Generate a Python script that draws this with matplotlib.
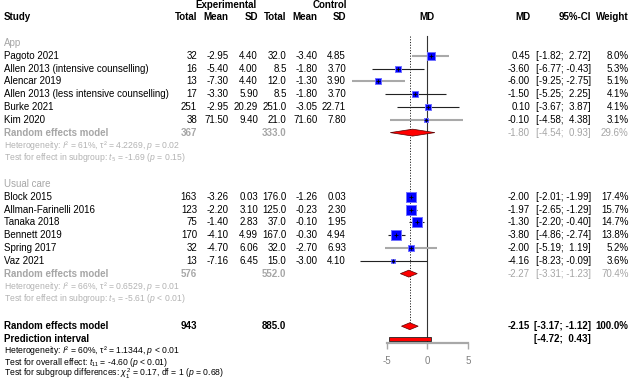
import matplotlib
matplotlib.use('Agg')
import matplotlib.pyplot as plt
from matplotlib.transforms import blended_transform_factory
from matplotlib.patches import Polygon, Rectangle

plt.rcParams['font.family'] = ['Liberation Sans', 'DejaVu Sans']
plt.rcParams['mathtext.fontset'] = 'custom'
plt.rcParams['mathtext.rm'] = 'Liberation Sans'
plt.rcParams['mathtext.it'] = 'Liberation Sans:italic'
plt.rcParams['mathtext.bf'] = 'Liberation Sans:bold'

# App subgroup
app_study = ['Pagoto 2021', 'Allen 2013 (intensive counselling)', 'Alencar 2019',
             'Allen 2013 (less intensive counselling)', 'Burke 2021', 'Kim 2020']
app_ne = [32, 16, 13, 17, 251, 38]
app_me = [-2.95, -5.40, -7.30, -3.30, -2.95, 71.50]
app_se = [4.40, 4.00, 4.40, 5.90, 20.29, 9.40]
app_nc = [32.0, 8.5, 12.0, 8.5, 251.0, 21.0]
app_mc = [-3.40, -1.80, -1.30, -1.80, -3.05, 71.60]
app_sc = [4.85, 3.70, 3.90, 3.70, 22.71, 7.80]
app_md = [0.45, -3.60, -6.00, -1.50, 0.10, -0.10]
app_lo = [-1.82, -6.77, -9.25, -5.25, -3.67, -4.58]
app_hi = [2.72, -0.43, -2.75, 2.25, 3.87, 4.38]
app_w = [8.0, 5.3, 5.1, 4.1, 4.1, 3.1]
app_grey = [True, False, True, False, False, True]
app_re = [-1.80, -4.54, 0.93, 29.6]
app_tot = [367, 333.0]
app_het = "Heterogeneity: $I$² = 61%, τ² = 4.2269, $p$ = 0.02"
app_test = "Test for effect in subgroup: $t$₅ = -1.69 ($p$ = 0.15)"

# Usual care subgroup
uc_study = ['Block 2015', 'Allman-Farinelli 2016', 'Tanaka 2018', 'Bennett 2019',
            'Spring 2017', 'Vaz 2021']
uc_ne = [163, 123, 75, 170, 32, 13]
uc_me = [-3.26, -2.20, -1.40, -4.10, -4.70, -7.16]
uc_se = [0.03, 3.10, 2.83, 4.99, 6.06, 6.45]
uc_nc = [176.0, 125.0, 37.0, 167.0, 32.0, 15.0]
uc_mc = [-1.26, -0.23, -0.10, -0.30, -2.70, -3.00]
uc_sc = [0.03, 2.30, 1.95, 4.94, 6.93, 4.10]
uc_md = [-2.00, -1.97, -1.30, -3.80, -2.00, -4.16]
uc_lo = [-2.01, -2.65, -2.20, -4.86, -5.19, -8.23]
uc_hi = [-1.99, -1.29, -0.40, -2.74, 1.19, -0.09]
uc_w = [17.4, 15.7, 14.7, 13.8, 5.2, 3.6]
uc_grey = [False, False, False, False, True, False]
uc_re = [-2.27, -3.31, -1.23, 70.4]
uc_tot = [576, 552.0]
uc_het = "Heterogeneity: $I$² = 66%, τ² = 0.6529, $p$ = 0.01"
uc_test = "Test for effect in subgroup: $t$₅ = -5.61 ($p$ < 0.01)"

# overall
all_re = [-2.15, -3.17, -1.12, 100.0]
all_tot = [943, 885.0]
pred = [-4.72, 0.43]
all_het = "Heterogeneity: $I$² = 60%, τ² = 1.1344, $p$ < 0.01"
all_test = "Test for overall effect: $t$₁₁ = -4.60 ($p$ < 0.01)"
sub_test = r"Test for subgroup differences: $\chi^2_1$ = 0.17, df = 1 ($p$ = 0.68)"

W, H = 640, 384
fig = plt.figure(figsize=(6.4, 3.84), dpi=100)
ax = fig.add_axes([0, 0, 1, 1])
# px = 427.3 + 8.15 * MD ; py = 55.7 + 12.82 * row
ax.set_xlim(-427.3 / 8.15, (W - 427.3) / 8.15)
ax.set_ylim((H - 55.7) / 12.82, -55.7 / 12.82)
for s in ['left', 'right', 'top']:
    ax.spines[s].set_visible(False)
ax.set_yticks([])
axis_row = 22.39
ax.spines['bottom'].set_position(('data', axis_row))
ax.spines['bottom'].set_bounds(-5, 5)
ax.spines['bottom'].set_color('#a8a8a8')
ax.spines['bottom'].set_linewidth(1.6)
ax.set_xticks([-5, 0, 5])
ax.set_xticklabels(['-5', '0', '5'])
ax.tick_params(axis='x', direction='out', length=4, width=1.0, color='#a8a8a8',
               labelcolor='#808080', labelsize=7, pad=5.5)

tr = blended_transform_factory(fig.transFigure, ax.transData)
FS = 7
FS2 = 6.2
GREY = '#a6a6a6'
GREY2 = '#b3b3b3'

# column right edges (pixels)
c_ne, c_me, c_se, c_nc, c_mc, c_sc = 197, 228.5, 258, 286.5, 317.5, 346
c_md, c_ci, c_w = 530, 591, 628.5


def txt(x, row, s, ha='right', **kw):
    kw.setdefault('fontsize', FS)
    ax.text(x / W, row, s, transform=tr, ha=ha, va='center', **kw)


# headers
txt(226, -3.95, 'Experimental', ha='center', fontweight='bold')
txt(330, -3.95, 'Control', ha='center', fontweight='bold')
txt(4, -3.0, 'Study', ha='left', fontweight='bold')
for x, lab in [(c_ne, 'Total'), (c_me, 'Mean'), (c_se, 'SD'), (c_nc, 'Total'),
               (c_mc, 'Mean'), (c_sc, 'SD'), (c_md, 'MD'), (c_ci, '95%-CI'),
               (c_w, 'Weight')]:
    txt(x, -3.0, lab, fontweight='bold')
txt(427.3, -3.0, 'MD', ha='center', fontweight='bold')


def ci_str(lo, hi):
    return f"[{lo:5.2f}; {hi:5.2f}]"


def diamond(est, lo, hi, row):
    h = 0.27
    ax.add_patch(Polygon([(lo, row), (est, row - h), (hi, row), (est, row + h)],
                         closed=True, facecolor='red', edgecolor='#5a0000',
                         linewidth=0.5, zorder=4))


def group(r0, name, study, ne, me, se, nc, mc, sc, md, lo, hi, w, grey, re, tot, het, test):
    txt(4, r0 - 1, name, ha='left', color=GREY)
    for i in range(len(study)):
        r = r0 + i
        txt(4, r, study[i], ha='left')
        txt(c_ne, r, f"{ne[i]}")
        txt(c_me, r, f"{me[i]:.2f}")
        txt(c_se, r, f"{se[i]:.2f}")
        txt(c_nc, r, f"{nc[i]:.1f}")
        txt(c_mc, r, f"{mc[i]:.2f}")
        txt(c_sc, r, f"{sc[i]:.2f}")
        txt(c_md, r, f"{md[i]:.2f}")
        txt(c_ci, r, ci_str(lo[i], hi[i]))
        txt(c_w, r, f"{w[i]:.1f}%")
        if grey[i]:
            ax.plot([lo[i], hi[i]], [r, r], color='#a9a9a9', lw=1.5, zorder=2,
                    solid_capstyle='butt')
        else:
            ax.plot([lo[i], hi[i]], [r, r], color='#222222', lw=0.8, zorder=2,
                    solid_capstyle='butt')
        side = 10.7 * 0.72 * (w[i] / 17.4) ** 0.5
        ax.scatter([md[i]], [r], marker='s', s=side ** 2, color='#0000ff',
                   edgecolors='#7070ff', linewidths=0.7, zorder=3)
        ax.scatter([md[i]], [r], marker='+', s=6, color='black', linewidths=0.6,
                   zorder=3.5)
    rr = r0 + len(study)
    txt(4, rr, 'Random effects model', ha='left', color=GREY, fontweight='bold')
    txt(c_ne, rr, f"{tot[0]}", color=GREY, fontweight='bold')
    txt(c_nc, rr, f"{tot[1]:.1f}", color=GREY, fontweight='bold')
    txt(c_md, rr, f"{re[0]:.2f}", color=GREY)
    txt(c_ci, rr, ci_str(re[1], re[2]), color=GREY)
    txt(c_w, rr, f"{re[3]:.1f}%", color=GREY)
    diamond(re[0], re[1], re[2], rr)
    txt(4, rr + 1.02, het, ha='left', color=GREY2, fontsize=FS2)
    txt(4, rr + 1.92, test, ha='left', color=GREY2, fontsize=FS2)


group(0, 'App', app_study, app_ne, app_me, app_se, app_nc, app_mc, app_sc,
      app_md, app_lo, app_hi, app_w, app_grey, app_re, app_tot, app_het, app_test)
group(11, 'Usual care', uc_study, uc_ne, uc_me, uc_se, uc_nc, uc_mc, uc_sc,
      uc_md, uc_lo, uc_hi, uc_w, uc_grey, uc_re, uc_tot, uc_het, uc_test)

# overall
r = 21.1
txt(4, r, 'Random effects model', ha='left', fontweight='bold')
txt(c_ne, r, f"{all_tot[0]}", fontweight='bold')
txt(c_nc, r, f"{all_tot[1]:.1f}", fontweight='bold')
txt(c_md, r, f"{all_re[0]:.2f}", fontweight='bold')
txt(c_ci, r, ci_str(all_re[1], all_re[2]), fontweight='bold')
txt(c_w, r, f"{all_re[3]:.1f}%", fontweight='bold')
diamond(all_re[0], all_re[1], all_re[2], r)

rp = 22.1
txt(4, rp, 'Prediction interval', ha='left', fontweight='bold')
txt(c_ci, rp, ci_str(pred[0], pred[1]), fontweight='bold')
ax.add_patch(Rectangle((pred[0], rp - 0.12), pred[1] - pred[0], 0.24,
                       facecolor='red', edgecolor='#222222', linewidth=0.6, zorder=4))

txt(4, 23.0, all_het, ha='left', fontsize=FS2)
txt(4, 23.9, all_test, ha='left', fontsize=FS2)
txt(4, 24.85, sub_test, ha='left', fontsize=FS2)

# reference lines
ax.plot([0, 0], [-1.55, axis_row], color='#333333', lw=0.8, zorder=1)
ax.plot([all_re[0], all_re[0]], [-1.55, 21.15], color='#222222', lw=0.7,
        linestyle=(0, (1.2, 1.6)), zorder=1)

fig.savefig('out.png', dpi=100)
